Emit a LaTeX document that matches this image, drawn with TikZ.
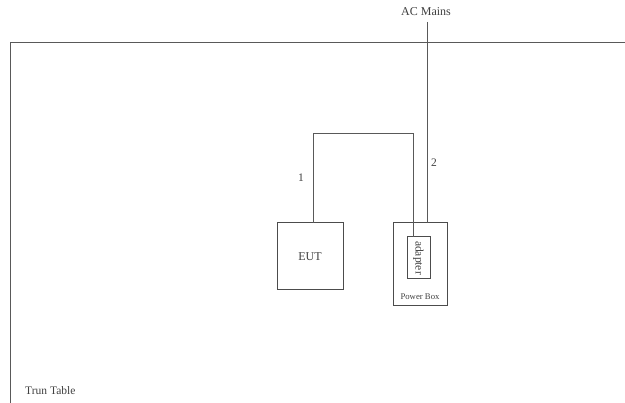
\documentclass[tikz,border=0pt]{standalone}
\usepackage{fontspec}
\setmainfont{Liberation Serif}
\begin{document}
\begin{tikzpicture}[x=1pt,y=-1pt,
  wire/.style={draw=black!65, line width=1pt},
  box/.style={draw=black!70, line width=1pt, fill=none, inner sep=0pt},
  lbl/.style={text=black!75, font=\fontsize{11.5}{13}\selectfont, inner sep=0pt}]
\useasboundingbox (0,0) rectangle (625,403);
% table border
\coordinate (tl) at (10,43);
\coordinate (tr) at (625,43);
\coordinate (bl) at (10,403);
\draw[wire] (tr) -- (tl) -- (bl);
% boxes
\node[box, minimum width=66pt, minimum height=67pt] (eut) at (310,256.5) {};
\node[lbl, font=\fontsize{12}{14}\selectfont] at (eut.center) {EUT};
\node[box, minimum width=54pt, minimum height=83pt] (pb) at (420,264.5) {};
\node[box, minimum width=23pt, minimum height=42pt] (ad) at (418.5,258) {};
\node[lbl, rotate=-90] at (ad.center) {adapter};
\node[lbl, font=\fontsize{8.7}{10}\selectfont] (pbl) at (420,297) {Power Box};
% AC mains
\node[lbl, font=\fontsize{12}{14}\selectfont] (ac) at (426,12) {AC Mains};
\coordinate (actop) at (427,22);
\coordinate (acbot) at (427,223);
\draw[wire] (actop) -- (acbot);
\node[lbl] (n2) at (434,163) {2};
% cable 1
\coordinate (c1a) at (313,223);
\coordinate (c1b) at (413,237);
\draw[wire] (c1a) -- (313,134) -- (413,134) -- (c1b);
\node[lbl] (n1) at (301,178) {1};
% turn table label
\node[lbl, anchor=west] (tt) at (25,391) {Trun Table};
\end{tikzpicture}
\end{document}
